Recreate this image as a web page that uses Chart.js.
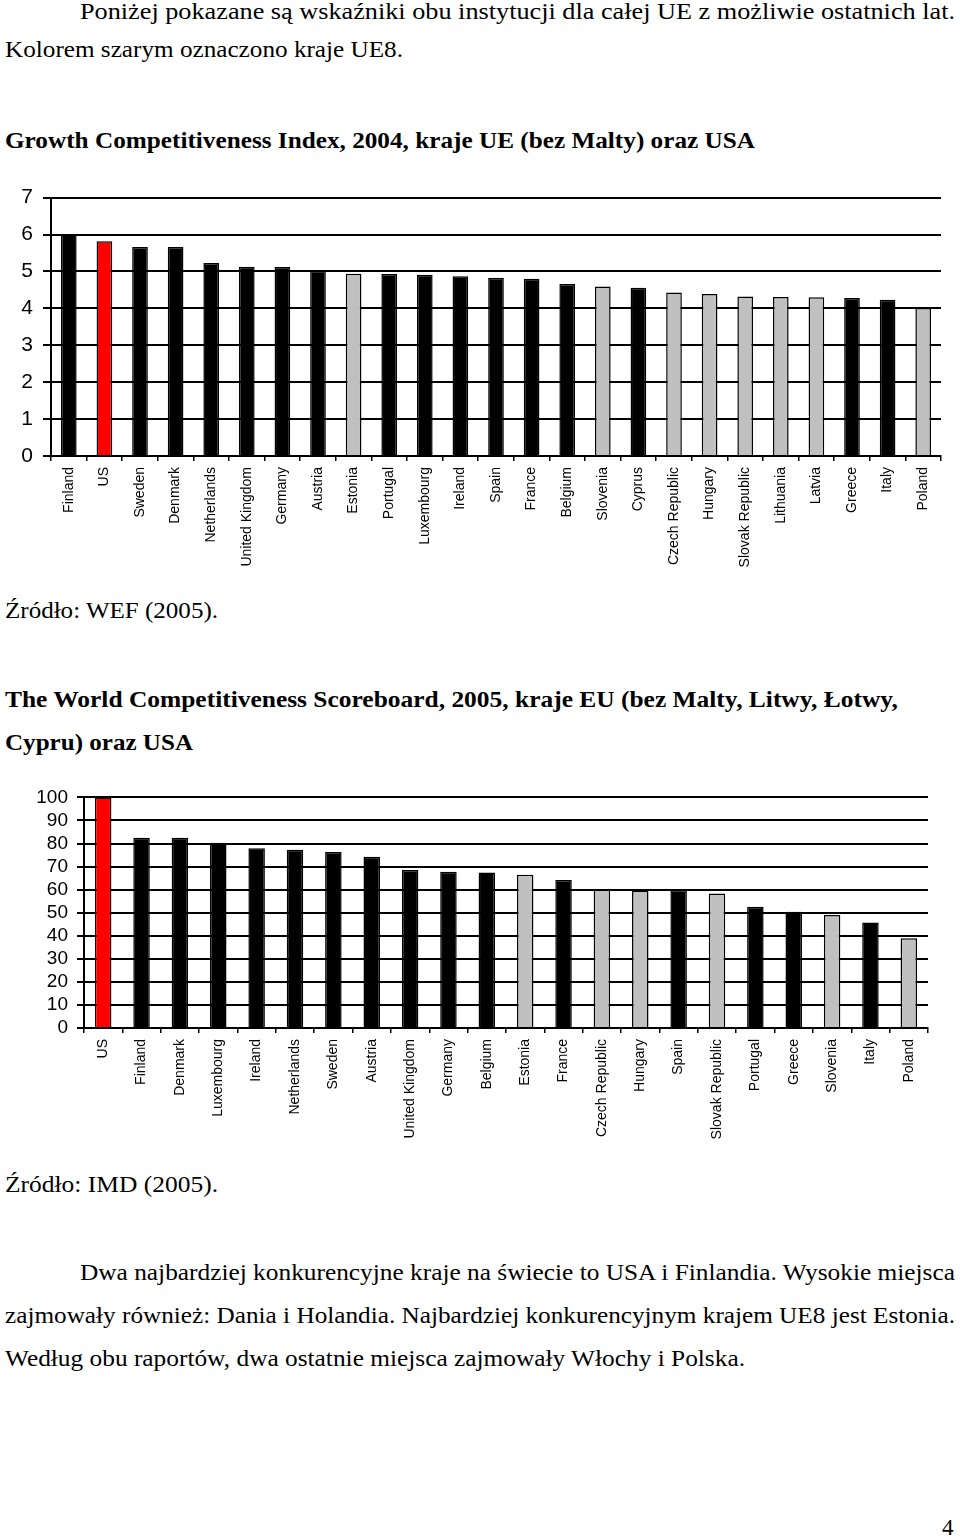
<!DOCTYPE html>
<html>
<head>
<meta charset="utf-8">
<script src="https://cdn.jsdelivr.net/npm/chart.js@4.4.1/dist/chart.umd.min.js"></script>
<style>
    body { margin: 0; background: #fff; width: 960px; height: 1537px; position: relative; overflow: hidden; }
    .t { position: absolute; font-family: "Liberation Serif", "Times New Roman", serif; font-size: 23px; line-height: 30px; white-space: nowrap; color: #000; transform-origin: left center; }
    .b { font-weight: bold; }
    .box { position: absolute; left: 0; width: 960px; }
</style>
</head>
<body>

<div class="t" style="left:80px;top:-3px" data-w="875">Poniżej pokazane są wskaźniki obu instytucji dla całej UE z możliwie ostatnich lat.</div>
<div class="t" style="left:5px;top:35px" data-w="398">Kolorem szarym oznaczono kraje UE8.</div>
<div class="t b" style="left:5px;top:126px" data-w="750">Growth Competitiveness Index, 2004, kraje UE (bez Malty) oraz USA</div>

<div class="box" style="top:175px;height:405px"><canvas id="chart_gci"></canvas></div>

<div class="t" style="left:5px;top:596px" data-w="213">Źródło: WEF (2005).</div>
<div class="t b" style="left:5px;top:685px" data-w="893">The World Competitiveness Scoreboard, 2005, kraje EU (bez Malty, Litwy, Łotwy,</div>
<div class="t b" style="left:5px;top:728px" data-w="188">Cypru) oraz USA</div>

<div class="box" style="top:777px;height:378px"><canvas id="chart_wcs"></canvas></div>

<div class="t" style="left:5px;top:1170px" data-w="213">Źródło: IMD (2005).</div>
<div class="t" style="left:80px;top:1258px" data-w="875">Dwa najbardziej konkurencyjne kraje na świecie to USA i Finlandia. Wysokie miejsca</div>
<div class="t" style="left:5px;top:1301px" data-w="950">zajmowały również: Dania i Holandia. Najbardziej konkurencyjnym krajem UE8 jest Estonia.</div>
<div class="t" style="left:5px;top:1344px" data-w="740">Według obu raportów, dwa ostatnie miejsca zajmowały Włochy i Polska.</div>
<div class="t" style="left:942px;top:1513px">4</div>

<script>
// dane - Growth Competitiveness Index 2004
var gciCountries = ["Finland", "US", "Sweden", "Denmark", "Netherlands", "United Kingdom", "Germany", "Austria",
    "Estonia", "Portugal", "Luxembourg", "Ireland", "Spain", "France", "Belgium", "Slovenia", "Cyprus",
    "Czech Republic", "Hungary", "Slovak Republic", "Lithuania", "Latvia", "Greece", "Italy", "Poland"];
var gciValues = [6.00, 5.82, 5.66, 5.66, 5.23, 5.13, 5.12, 5.02,
    4.94, 4.93, 4.91, 4.87, 4.82, 4.80, 4.66, 4.59, 4.56,
    4.43, 4.39, 4.32, 4.31, 4.30, 4.28, 4.23, 4.01];
var gciTicks = [0, 1, 2, 3, 4, 5, 6, 7];

// dane - World Competitiveness Scoreboard 2005
var wcsCountries = ["US", "Finland", "Denmark", "Luxembourg", "Ireland", "Netherlands", "Sweden", "Austria",
    "United Kingdom", "Germany", "Belgium", "Estonia", "France", "Czech Republic", "Hungary", "Spain",
    "Slovak Republic", "Portugal", "Greece", "Slovenia", "Italy", "Poland"];
var wcsValues = [100, 82.5, 82.5, 80.3, 77.9, 77.3, 76.3, 74.3,
    68.5, 67.8, 67.4, 66.5, 64.2, 59.9, 59.5, 59.8,
    58.3, 52.6, 50.4, 49.0, 45.8, 38.9];
var wcsTicks = [0, 10, 20, 30, 40, 50, 60, 70, 80, 90, 100];

// kraje UE8 (szare) i USA (czerwony)
var ue8 = ["Estonia", "Slovenia", "Czech Republic", "Hungary", "Slovak Republic", "Lithuania", "Latvia", "Poland"];

function barColor(name) {
    if (name === "US") return "#ff0000";
    if (ue8.indexOf(name) >= 0) return "#c0c0c0";
    return "#000000";
}

// dopasowanie szerokosci tekstu
document.querySelectorAll(".t[data-w]").forEach(function (el) {
    var w = el.getBoundingClientRect().width;
    el.style.transform = "scaleX(" + (Number(el.dataset.w) / w) + ")";
});

function makeChart(id, labels, values, ticks, opt) {
    return new Chart(document.getElementById(id), {
        type: "bar",
        data: {
            labels: labels,
            datasets: [{
                data: values,
                backgroundColor: labels.map(barColor),
                borderColor: "#000",
                borderWidth: 1.5,
                barPercentage: opt.barPct,
                categoryPercentage: 1
            }]
        },
        options: {
            responsive: true,
            maintainAspectRatio: false,
            animation: false,
            layout: { padding: { top: opt.top, right: opt.right, left: 0, bottom: 0 } },
            plugins: { legend: { display: false }, tooltip: { enabled: false } },
            scales: {
                x: {
                    grid: { offset: true, drawOnChartArea: false, color: "#000", lineWidth: 1.5, tickLength: 5 },
                    border: { color: "#000", width: 2 },
                    ticks: {
                        color: "#000", autoSkip: false, minRotation: 90, maxRotation: 90, padding: 6,
                        font: { family: "Liberation Sans", size: 14 }
                    },
                    afterFit: function (scale) { scale.height = opt.xHeight; }
                },
                y: {
                    min: ticks[0],
                    max: ticks[ticks.length - 1],
                    afterBuildTicks: function (scale) {
                        scale.ticks = ticks.map(function (v) { return { value: v }; });
                    },
                    grid: { color: "#000", lineWidth: 2, tickLength: opt.tickLen },
                    border: { color: "#000", width: 2 },
                    ticks: {
                        color: "#000", padding: opt.yPad, autoSkip: false,
                        font: { family: "Liberation Sans", size: opt.yFont }
                    },
                    afterFit: function (scale) { scale.width = opt.yWidth; }
                }
            }
        }
    });
}

var Chart_gci = makeChart("chart_gci", gciCountries, gciValues, gciTicks,
    { barPct: 0.44, top: 2, right: 19, xHeight: 124, yWidth: 51, tickLen: 8, yPad: 10, yFont: 21 });

var Chart_wcs = makeChart("chart_wcs", wcsCountries, wcsValues, wcsTicks,
    { barPct: 0.43, top: 2, right: 32, xHeight: 127, yWidth: 84, tickLen: 7, yPad: 9, yFont: 19 });
</script>
</body>
</html>
